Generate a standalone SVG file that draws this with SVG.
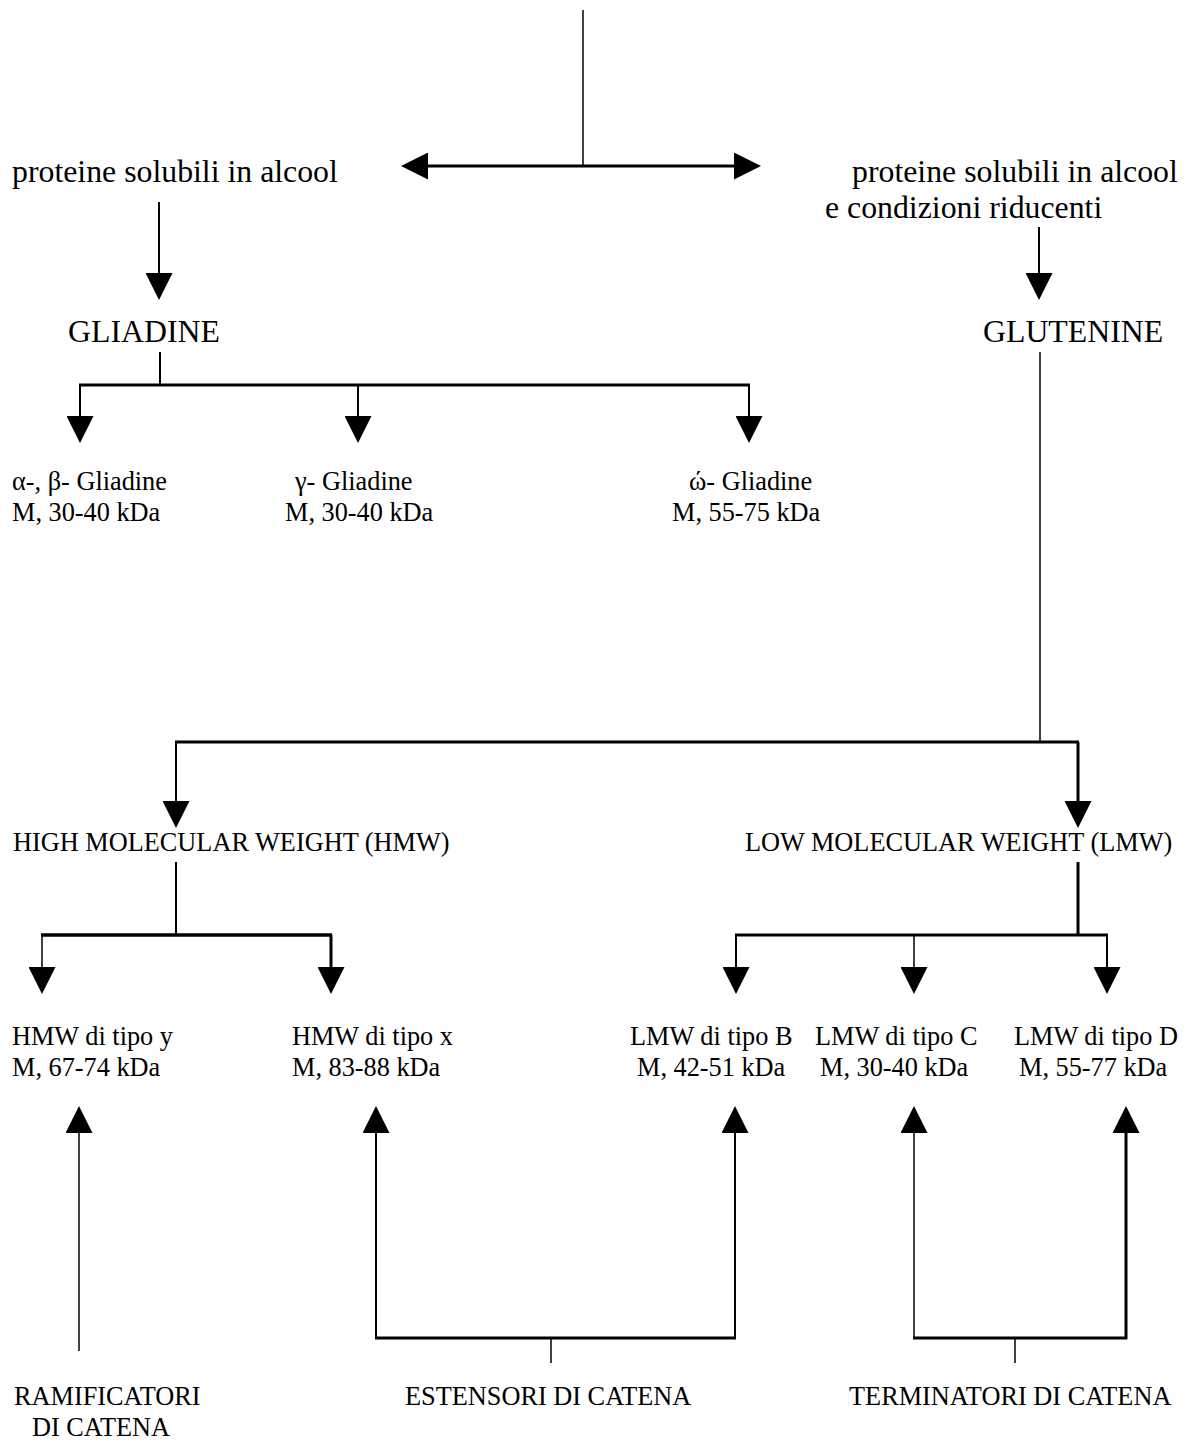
<svg xmlns="http://www.w3.org/2000/svg" width="1196" height="1441" viewBox="0 0 1196 1441">
<style>
text{font-family:"Liberation Serif","Times New Roman",serif;fill:#000}
.big{font-size:31.8px}
.sm{font-size:26.3px}
line{stroke:#000;fill:none}
.t1{stroke-width:1.5}
.t2{stroke-width:2}
.t3{stroke-width:3}
</style>
<defs>
<marker id="ah" viewBox="0 0 27 27" refX="0" refY="13.5" markerWidth="27" markerHeight="27" markerUnits="userSpaceOnUse" orient="auto-start-reverse">
<path d="M0,0 L27,13.5 L0,27 z" fill="#000"/>
</marker>
</defs>
<rect width="1196" height="1441" fill="#fff"/>
<g id="connectors">
<line class="t1" x1="583" y1="10" x2="583" y2="166"/>
<line class="t3" x1="428" y1="166" x2="734" y2="166" marker-start="url(#ah)" marker-end="url(#ah)"/>
<line class="t2" x1="159" y1="202" x2="159" y2="273" marker-end="url(#ah)"/>
<line class="t2" x1="1039" y1="227" x2="1039" y2="273" marker-end="url(#ah)"/>
<line class="t2" x1="160" y1="352" x2="160" y2="385"/>
<line class="t3" x1="79" y1="385" x2="750" y2="385"/>
<line class="t2" x1="80" y1="385" x2="80" y2="416" marker-end="url(#ah)"/>
<line class="t2" x1="358" y1="385" x2="358" y2="416" marker-end="url(#ah)"/>
<line class="t2" x1="749" y1="385" x2="749" y2="416" marker-end="url(#ah)"/>
<line class="t1" x1="1040" y1="352" x2="1040" y2="742"/>
<line class="t3" x1="175" y1="742" x2="1079" y2="742"/>
<line class="t2" x1="176" y1="742" x2="176" y2="801" marker-end="url(#ah)"/>
<line class="t3" x1="1078" y1="742" x2="1078" y2="801" marker-end="url(#ah)"/>
<line class="t2" x1="176" y1="862" x2="176" y2="935"/>
<line class="t3" x1="41" y1="935" x2="332" y2="935" style="stroke-width:3.5"/>
<line class="t1" x1="42" y1="935" x2="42" y2="967" marker-end="url(#ah)"/>
<line class="t3" x1="331" y1="935" x2="331" y2="967" marker-end="url(#ah)"/>
<line class="t3" x1="1078" y1="862" x2="1078" y2="935"/>
<line class="t3" x1="735" y1="935" x2="1108" y2="935"/>
<line class="t2" x1="736" y1="935" x2="736" y2="967" marker-end="url(#ah)"/>
<line class="t1" x1="914" y1="935" x2="914" y2="967" marker-end="url(#ah)"/>
<line class="t2" x1="1107" y1="935" x2="1107" y2="967" marker-end="url(#ah)"/>
<line class="t1" x1="79" y1="1351" x2="79" y2="1133" marker-end="url(#ah)"/>
<line class="t2" x1="376" y1="1338" x2="376" y2="1133" marker-end="url(#ah)"/>
<line class="t2" x1="735" y1="1338" x2="735" y2="1133" marker-end="url(#ah)"/>
<line class="t3" x1="375" y1="1338" x2="736" y2="1338"/>
<line class="t1" x1="551" y1="1338" x2="551" y2="1363"/>
<line class="t1" x1="914" y1="1338" x2="914" y2="1133" marker-end="url(#ah)"/>
<line class="t3" x1="1126" y1="1339" x2="1126" y2="1133" marker-end="url(#ah)"/>
<line class="t3" x1="913" y1="1338" x2="1127" y2="1338"/>
<line class="t1" x1="1015" y1="1338" x2="1015" y2="1363"/>
</g>
<g id="alcool-soluble"><text class="big" x="12" y="182">proteine solubili in alcool</text></g>
<g id="alcool-reducing"><text class="big" x="852" y="182">proteine solubili in alcool</text><text class="big" x="825" y="218">e condizioni riducenti</text></g>
<g id="gliadine"><text class="big" x="68" y="342">GLIADINE</text></g>
<g id="glutenine"><text class="big" x="983" y="342">GLUTENINE</text></g>
<g id="alpha-beta"><text class="sm" x="12" y="490">α-, β- Gliadine</text><text class="sm" x="12" y="521">M, 30-40 kDa</text></g>
<g id="gamma"><text class="sm" x="295" y="490">γ- Gliadine</text><text class="sm" x="285" y="521">M, 30-40 kDa</text></g>
<g id="omega"><text class="sm" x="689" y="490">ώ- Gliadine</text><text class="sm" x="672" y="521">M, 55-75 kDa</text></g>
<g id="hmw"><text class="sm" x="13" y="851">HIGH MOLECULAR WEIGHT (HMW)</text></g>
<g id="lmw"><text class="sm" x="745" y="851">LOW MOLECULAR WEIGHT (LMW)</text></g>
<g id="hmw-y"><text class="sm" x="12" y="1045">HMW di tipo y</text><text class="sm" x="12" y="1076">M, 67-74 kDa</text></g>
<g id="hmw-x"><text class="sm" x="292" y="1045">HMW di tipo x</text><text class="sm" x="292" y="1076">M, 83-88 kDa</text></g>
<g id="lmw-b"><text class="sm" x="630" y="1045">LMW di tipo B</text><text class="sm" x="637" y="1076">M, 42-51 kDa</text></g>
<g id="lmw-c"><text class="sm" x="815" y="1045">LMW di tipo C</text><text class="sm" x="820" y="1076">M, 30-40 kDa</text></g>
<g id="lmw-d"><text class="sm" x="1014" y="1045">LMW di tipo D</text><text class="sm" x="1019" y="1076">M, 55-77 kDa</text></g>
<g id="ramificatori"><text class="sm" x="14" y="1405">RAMIFICATORI</text><text class="sm" x="32" y="1436">DI CATENA</text></g>
<g id="estensori"><text class="sm" x="405" y="1405">ESTENSORI DI CATENA</text></g>
<g id="terminatori"><text class="sm" x="849" y="1405">TERMINATORI DI CATENA</text></g>
</svg>
